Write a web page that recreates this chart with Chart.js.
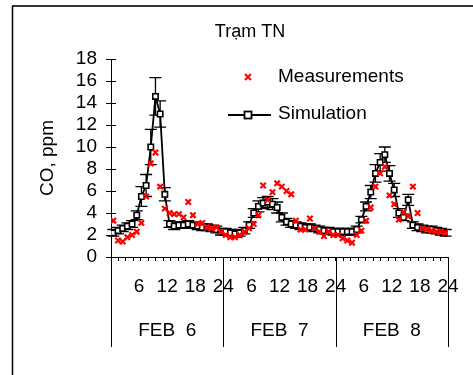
<!DOCTYPE html>
<html>
<head>
<meta charset="utf-8">
<script src="https://cdn.jsdelivr.net/npm/chart.js@4.4.0/dist/chart.umd.min.js"></script>
<style>
  body { margin: 0; background: #fff; }
  #wrap { width: 473px; height: 375px; position: relative; }
</style>
</head>
<body>
<div id="wrap"><canvas id="myChart" width="473" height="375"></canvas></div>
<script>
const days = ['FEB  6', 'FEB  7', 'FEB  8'];
const hourTicks = [6, 12, 18, 24];

// hourly CO values, 24 per day
const measured = [
    3.3, 1.5, 1.4, 1.8, 2.0, 2.3, 3.1, 5.5, 8.5, 9.5, 6.4, 4.4, 4.0, 3.9, 3.9, 3.6, 5.0, 3.8, 3.0, 3.1, 2.7, 2.6, 2.7, 2.3,
    2.0, 1.8, 1.8, 2.0, 2.3, 2.6, 3.0, 3.8, 6.5, 5.2, 5.9, 6.7, 6.4, 6.0, 5.7, 3.3, 2.5, 2.5, 3.5, 2.6, 2.3, 1.9, 2.3, 2.0,
    2.0, 1.7, 1.5, 1.3, 2.0, 2.4, 3.3, 4.5, 6.4, 7.6, 8.2, 5.6, 4.8, 3.4, 4.1, 3.7, 6.4, 4.0, 2.6, 2.5, 2.4, 2.3, 2.3, 2.2
];
const simulated = [
    2.2, 2.4, 2.6, 2.8, 3.0, 3.8, 5.5, 6.5, 10.0, 14.6, 13.0, 5.7, 3.0, 2.8, 2.9, 2.9, 3.0, 2.9, 2.8, 2.7, 2.7, 2.6, 2.5, 2.3,
    2.3, 2.2, 2.1, 2.2, 2.4, 2.9, 4.0, 4.6, 4.9, 5.0, 4.8, 4.5, 3.6, 3.2, 3.0, 2.9, 2.8, 2.7, 2.7, 2.6, 2.5, 2.4, 2.4, 2.3,
    2.3, 2.3, 2.3, 2.3, 2.5, 3.4, 4.6, 5.9, 7.6, 8.6, 9.3, 7.6, 6.1, 4.0, 3.6, 5.2, 2.9, 2.7, 2.6, 2.5, 2.5, 2.4, 2.3, 2.2
];
const simError = [
    0.3, 0.3, 0.3, 0.3, 0.3, 0.4, 0.9, 1.0, 1.6, 1.7, 1.2, 0.6, 0.3, 0.3, 0.3, 0.3, 0.3, 0.3, 0.3, 0.3, 0.3, 0.3, 0.3, 0.3,
    0.3, 0.3, 0.3, 0.3, 0.3, 0.3, 0.4, 0.5, 0.5, 0.5, 0.5, 0.5, 0.4, 0.3, 0.3, 0.3, 0.3, 0.3, 0.3, 0.3, 0.3, 0.3, 0.3, 0.3,
    0.3, 0.3, 0.3, 0.3, 0.3, 0.3, 0.4, 0.6, 0.8, 0.8, 0.7, 0.7, 0.6, 0.4, 0.3, 0.5, 0.3, 0.3, 0.3, 0.3, 0.3, 0.3, 0.3, 0.3
];

const FONT = "'Liberation Sans', Arial, sans-serif";
Chart.defaults.font.family = FONT;
Chart.defaults.color = '#000';

const toPoints = arr => arr.map((v, i) => ({ x: i + 0.5, y: v }));
const hourTickValues = days.flatMap((d, di) => hourTicks.map(h => di * 24 + h));

const extras = {
    id: 'extras',
    beforeDatasetsDraw(chart) {
        const c = chart.ctx;
        const y = chart.scales.y;
        const meta = chart.getDatasetMeta(1);
        c.save();
        c.strokeStyle = '#000';
        c.lineWidth = 1.3;
        meta.data.forEach((pt, i) => {
            const top = y.getPixelForValue(simulated[i] + simError[i]);
            const bot = y.getPixelForValue(simulated[i] - simError[i]);
            c.beginPath();
            c.moveTo(pt.x, top); c.lineTo(pt.x, bot);
            c.moveTo(pt.x - 6, top); c.lineTo(pt.x + 6, top);
            c.moveTo(pt.x - 6, bot); c.lineTo(pt.x + 6, bot);
            c.stroke();
        });
        c.restore();
    },
    afterDraw(chart) {
        const c = chart.ctx;
        const x = chart.scales.x;
        const y = chart.scales.y;
        const area = chart.chartArea;
        c.save();

        // outer frame
        c.strokeStyle = '#333';
        c.lineWidth = 2;
        c.beginPath(); c.moveTo(12, 6); c.lineTo(473, 6); c.stroke();
        c.strokeStyle = '#000';
        c.lineWidth = 1.5;
        c.beginPath(); c.moveTo(12.5, 6); c.lineTo(12.5, 375); c.stroke();

        // inner half of y ticks
        c.lineWidth = 1;
        y.ticks.forEach(t => {
            const py = Math.round(y.getPixelForValue(t.value)) + 0.5;
            c.beginPath(); c.moveTo(area.left, py); c.lineTo(area.left + 5, py); c.stroke();
        });

        // day separators
        for (let d = 0; d <= days.length; d++) {
            const px = Math.round(x.getPixelForValue(d * 24)) + 0.5;
            c.beginPath(); c.moveTo(px, area.bottom); c.lineTo(px, 347); c.stroke();
        }

        // title
        c.fillStyle = '#000';
        c.font = '18px ' + FONT;
        c.textAlign = 'center';
        c.textBaseline = 'middle';
        c.fillText('Trạm TN', 250, 32);

        // legend
        c.font = '19px ' + FONT;
        c.textAlign = 'left';
        c.fillText('Measurements', 278, 77);
        c.fillText('Simulation', 278, 114);
        c.strokeStyle = '#f00';
        c.lineWidth = 2;
        c.beginPath();
        c.moveTo(245, 74); c.lineTo(251, 80);
        c.moveTo(251, 74); c.lineTo(245, 80);
        c.stroke();
        c.strokeStyle = '#000';
        c.lineWidth = 1.8;
        c.beginPath(); c.moveTo(228, 115); c.lineTo(271, 115); c.stroke();
        c.fillStyle = '#fff';
        c.fillRect(244.5, 111.5, 7, 7);
        c.strokeRect(244.5, 111.5, 7, 7);
        c.restore();
    }
};

new Chart(document.getElementById('myChart'), {
    type: 'line',
    data: {
        datasets: [
            {
                label: 'Measurements',
                data: toPoints(measured),
                showLine: false,
                pointStyle: 'crossRot',
                pointRadius: 3.8,
                pointBorderWidth: 2.2,
                borderColor: '#ff0000',
                backgroundColor: '#ff0000',
                order: 0
            },
            {
                label: 'Simulation',
                data: toPoints(simulated),
                borderColor: '#000',
                borderWidth: 1.8,
                pointStyle: 'rect',
                pointRadius: 3.8,
                pointBorderWidth: 1.6,
                pointBackgroundColor: '#fff',
                pointBorderColor: '#000',
                tension: 0,
                order: 1
            }
        ]
    },
    options: {
        responsive: false,
        animation: false,
        layout: { padding: { left: 0, right: 25, top: 59, bottom: 23 } },
        plugins: {
            legend: { display: false },
            title: { display: false },
            tooltip: { enabled: false }
        },
        scales: {
            x: {
                type: 'linear',
                min: 0,
                max: 72,
                weight: 0,
                afterBuildTicks: s => {
                    s.ticks = [];
                    for (let k = 0; k <= 45; k++) s.ticks.push({ value: k * 1.6 });
                },
                afterFit: s => { s.height = 5; },
                ticks: { display: false },
                grid: { drawOnChartArea: false, tickLength: 4, color: '#000' },
                border: { color: '#000' }
            },
            x2: {
                type: 'linear',
                position: 'bottom',
                min: 0,
                max: 72,
                weight: 1,
                afterBuildTicks: s => { s.ticks = hourTickValues.map(v => ({ value: v })); },
                afterFit: s => { s.height = 40; },
                ticks: {
                    callback: v => String(((v - 1) % 24) + 1),
                    autoSkip: false,
                    maxRotation: 0,
                    padding: 13,
                    font: { size: 19 }
                },
                grid: { display: false, drawTicks: false },
                border: { display: false }
            },
            x3: {
                type: 'category',
                position: 'bottom',
                labels: days,
                offset: true,
                weight: 2,
                afterFit: s => { s.height = 50; },
                ticks: { padding: 17, font: { size: 19 }, autoSkip: false, maxRotation: 0 },
                grid: { display: false, drawTicks: false },
                border: { display: false }
            },
            y: {
                min: 0,
                max: 18,
                afterFit: s => { s.width = 111; },
                ticks: { stepSize: 2, autoSkip: false, padding: 9, font: { size: 19 } },
                grid: { drawOnChartArea: false, tickLength: 5, color: '#000' },
                border: { color: '#000' },
                title: { display: true, text: 'CO, ppm', font: { size: 19 }, padding: { top: 36 } }
            }
        }
    },
    plugins: [extras]
});
</script>
</body>
</html>
